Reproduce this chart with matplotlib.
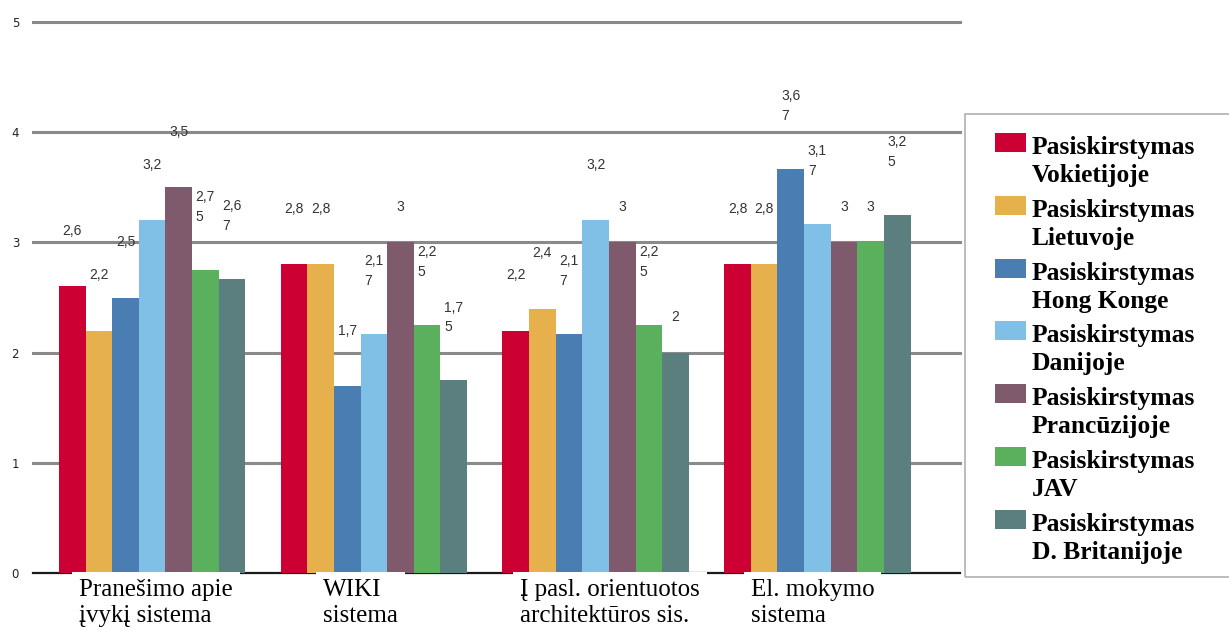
import numpy as np
import matplotlib.pyplot as plt
from matplotlib.patches import Rectangle

# survey results per system type
categories = [
    "Pranešimo apie\nįvykį sistema",
    "WIKI\nsistema",
    "Į pasl. orientuotos\narchitektūros sis.",
    "El. mokymo\nsistema",
]
series = [
    "Pasiskirstymas\nVokietijoje",
    "Pasiskirstymas\nLietuvoje",
    "Pasiskirstymas\nHong Konge",
    "Pasiskirstymas\nDanijoje",
    "Pasiskirstymas\nPrancūzijoje",
    "Pasiskirstymas\nJAV",
    "Pasiskirstymas\nD. Britanijoje",
]
vokietija = [2.6, 2.8, 2.2, 2.8]
lietuva = [2.2, 2.8, 2.4, 2.8]
hong_kongas = [2.5, 1.7, 2.17, 3.67]
danija = [3.2, 2.17, 3.2, 3.17]
prancuzija = [3.5, 3, 3, 3]
jav = [2.75, 2.25, 2.25, 3]
britanija = [2.67, 1.75, 2, 3.25]
values = [vokietija, lietuva, hong_kongas, danija, prancuzija, jav, britanija]

colors = ["#cc0033", "#e6b04c", "#4a7eb3", "#80bfe6", "#7e5a6c", "#5ab05c", "#5a7f7e"]
label_dx = [-0.33, -0.23, -0.34, -0.30]

W, H = 1229, 630
fig = plt.figure(figsize=(W / 100, H / 100), dpi=100)
ax = fig.add_axes([33 / W, 1 - 573 / H, (960 - 33) / W, (573 - 22) / H])


def fmt(v):
    s = f"{v:g}".replace(".", ",")
    if len(s) > 3:
        s = s[:3] + "\n" + s[3:]
    return s


def offset(s):
    if "\n" in s:
        return 0.57
    if len(s) == 1:
        return 0.32
    return 0.5


x = np.arange(len(categories))
bw = 0.12
for k, vals in enumerate(values):
    xs = x + (k - 3) * bw
    ax.bar(xs, vals, bw, color=colors[k], zorder=3)
    for xi, v in zip(xs, vals):
        s = fmt(v)
        ax.text(xi, v + offset(s), s, ha="center", va="center",
                multialignment="left", fontsize=10, color="#333333",
                family="Liberation Sans", linespacing=1.5, zorder=4)

for yv in range(1, 6):
    ax.axhline(yv, color="#8a8a8a", lw=2.2, zorder=1, clip_on=False)
ax.axhline(0, color="#1a1a1a", lw=1.6, zorder=2, clip_on=False)

ax.set_xlim(-0.537, 3.643)
ax.set_ylim(0, 5)
ax.set_yticks(range(6))
ax.set_xticks([])
ax.tick_params(axis="y", length=0, pad=10, labelsize=8.5, labelcolor="#222222")
for sp in ax.spines.values():
    sp.set_visible(False)

for i, cat in enumerate(categories):
    ax.text(i + label_dx[i], -0.05, cat, ha="left", va="top", fontsize=18,
            family="Liberation Serif", linespacing=1.29, zorder=6, clip_on=False,
            bbox=dict(facecolor="white", edgecolor="none", pad=5))

# legend drawn by hand so the swatch sits on the first text line
fig.add_artist(Rectangle((965 / W, 1 - 577 / H), 280 / W, (577 - 114) / H,
                         transform=fig.transFigure, facecolor="none",
                         edgecolor="#b0b0b0", lw=1.2))
for k, name in enumerate(series):
    base = 153 + 62.8 * k
    fig.add_artist(Rectangle((995 / W, 1 - (base - 1) / H), 31 / W, 19 / H,
                             transform=fig.transFigure, facecolor=colors[k],
                             edgecolor="none"))
    fig.text(1032 / W, 1 - (base + 29) / H, name, ha="left", va="baseline",
             fontsize=18.4, fontweight="bold", family="Liberation Serif",
             linespacing=1.28)

fig.savefig("out.png", dpi=100)
